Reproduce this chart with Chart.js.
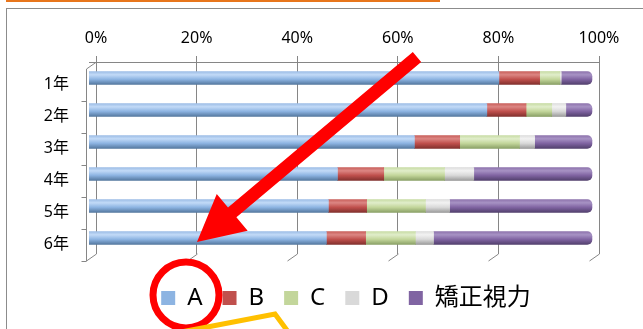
<!DOCTYPE html>
<html>
<head>
<meta charset="utf-8">
<script src="https://cdn.jsdelivr.net/npm/chart.js@4"></script>
<style>
  html, body { margin: 0; padding: 0; background: #fff; overflow: hidden; }
  #topline { position: absolute; left: 6px; top: 0; width: 434px; height: 2px; background: #e8761c; }
  #box { position: absolute; left: 6px; top: 8px; width: 680px; height: 340px; border: 1px solid #8c8c8c; box-sizing: border-box; }
</style>
</head>
<body>
<div id="topline"></div>
<div id="box"><canvas id="chart" width="678" height="338"></canvas></div>
<script>
// values (percent of pupils)
const grades = ['1年', '2年', '3年', '4年', '5年', '6年'];
const seriesNames = ['A', 'B', 'C', 'D', '矯正視力'];
const valA = [81.5, 79.1, 64.7, 49.4, 47.6, 47.2];
const valB = [8.1, 7.8, 9.0, 9.2, 7.6, 7.8];
const valC = [4.0, 5.1, 11.9, 12.1, 11.7, 9.9];
const valD = [0.3, 2.8, 3.0, 5.8, 4.8, 3.6];
const valE = [6.1, 5.2, 11.4, 23.5, 28.3, 31.5];
const tickValues = [0, 20, 40, 60, 80, 100];

const flatColors = ['#8db4e2', '#c0504d', '#c3d69b', '#d9d9d9', '#8064a2'];
const shades = [
    ['#9dbde6', '#c2daf7', '#8db4e2', '#54789f'],
    ['#c9605c', '#dc8683', '#c0504d', '#82302d'],
    ['#c8dca5', '#e0edca', '#c3d69b', '#8aa066'],
    ['#dedede', '#f2f2f2', '#d9d9d9', '#9c9c9c'],
    ['#8e74ad', '#a792c4', '#8064a2', '#52406d']
];
const FONT = "'Noto Sans', 'Noto Sans CJK JP', sans-serif";
const OX = 7, OY = 9; // canvas origin on the page

function cylinder(i) {
    return function (ctx) {
        if (ctx.type !== 'data') return flatColors[i];
        const chart = ctx.chart;
        const yc = chart.scales.y.getPixelForValue(ctx.dataIndex);
        if (!isFinite(yc)) return flatColors[i];
        const g = chart.ctx.createLinearGradient(0, yc - 6.5, 0, yc + 6.5);
        g.addColorStop(0, shades[i][0]);
        g.addColorStop(0.25, shades[i][1]);
        g.addColorStop(0.6, shades[i][2]);
        g.addColorStop(1, shades[i][3]);
        return g;
    };
}

const allVals = [valA, valB, valC, valD, valE];
const datasets = allVals.map(function (v, i) {
    const ds = {
        label: seriesNames[i],
        data: v,
        xAxisID: 'xb',
        backgroundColor: cylinder(i),
        borderWidth: 0,
        barThickness: 13
    };
    if (i === 4) { ds.borderRadius = 5; ds.borderSkipped = 'start'; }
    if (i === 0) { ds.borderRadius = 3; ds.borderSkipped = 'end'; }
    return ds;
});

// back wall / floor / left wall lines of the 3D frame
const framePlugin = {
    id: 'frame',
    beforeDatasetsDraw(chart) {
        const c = chart.ctx;
        const sx = chart.scales.x;
        const a = chart.chartArea;
        const dx = 10, dy = 7;
        c.save();
        c.strokeStyle = '#868686';
        c.lineWidth = 1;
        c.beginPath();
        tickValues.forEach(function (v) {
            const x = Math.round(sx.getPixelForValue(v)) + 0.5;
            c.moveTo(x, a.bottom);
            c.lineTo(x - dx, a.bottom + dy);
        });
        const x0 = Math.round(sx.getPixelForValue(0)) + 0.5;
        const xl = x0 - dx;
        c.moveTo(x0, a.top);
        c.lineTo(xl, a.top + dy);
        c.lineTo(xl, a.bottom + dy);
        const band = (a.bottom - a.top) / grades.length;
        for (let k = 1; k <= grades.length; k++) {
            const y = Math.round(a.top + dy + band * k) + 0.5;
            c.moveTo(xl - 5, y);
            c.lineTo(xl, y);
        }
        c.stroke();
        c.restore();
    }
};

// red arrow, red circle and yellow line drawn over the chart
const marksPlugin = {
    id: 'marks',
    afterDraw(chart) {
        const c = chart.ctx;
        c.save();
        c.translate(-OX, -OY);
        // arrow
        const S = [417, 57], T = [197, 242];
        const L = Math.hypot(T[0] - S[0], T[1] - S[1]);
        const u = [(T[0] - S[0]) / L, (T[1] - S[1]) / L];
        const n = [-u[1], u[0]];
        const hw = 6.5, headL = 46, headW = 24;
        const B = [T[0] - u[0] * headL, T[1] - u[1] * headL];
        c.fillStyle = '#ff0000';
        c.beginPath();
        c.moveTo(S[0] + n[0] * hw, S[1] + n[1] * hw);
        c.lineTo(B[0] + n[0] * hw, B[1] + n[1] * hw);
        c.lineTo(B[0] + n[0] * headW, B[1] + n[1] * headW);
        c.lineTo(T[0], T[1]);
        c.lineTo(B[0] - n[0] * headW, B[1] - n[1] * headW);
        c.lineTo(B[0] - n[0] * hw, B[1] - n[1] * hw);
        c.lineTo(S[0] - n[0] * hw, S[1] - n[1] * hw);
        c.closePath();
        c.fill();
        // circle
        c.strokeStyle = '#ff0000';
        c.lineWidth = 7;
        c.beginPath();
        c.arc(186, 295, 33, 0, Math.PI * 2);
        c.stroke();
        // yellow line
        c.strokeStyle = '#ffc000';
        c.lineWidth = 5;
        c.lineJoin = 'miter';
        c.beginPath();
        c.moveTo(176, 333);
        c.lineTo(275, 314);
        c.lineTo(289, 333);
        c.stroke();
        c.restore();
    }
};

new Chart(document.getElementById('chart'), {
    type: 'bar',
    data: { labels: grades, datasets: datasets },
    options: {
        indexAxis: 'y',
        responsive: false,
        animation: false,
        layout: { padding: { left: 0, right: 0, top: 0, bottom: 27 } },
        scales: {
            x: {
                position: 'top',
                min: -1.4,
                max: 100,
                afterBuildTicks: function (s) { s.ticks = tickValues.map(function (v) { return { value: v }; }); },
                afterFit: function (s) { s.height = 53; },
                ticks: {
                    padding: 8,
                    color: '#000',
                    font: { family: FONT, size: 16 },
                    maxRotation: 0,
                    callback: function (v) { return v + '%'; }
                },
                grid: { color: '#868686', tickLength: 6, lineWidth: 1 },
                border: { color: '#868686' }
            },
            xb: {
                position: 'bottom',
                stacked: true,
                min: 0,
                max: 101.4,
                afterFit: function (s) { s.height = 12; },
                ticks: { display: false },
                grid: { display: false, drawTicks: false },
                border: { display: false }
            },
            y: {
                stacked: true,
                afterFit: function (s) { s.width = 82; },
                ticks: {
                    padding: 20,
                    labelOffset: 6,
                    color: '#000',
                    font: { family: FONT, size: 16 }
                },
                grid: { display: false, drawTicks: false },
                border: { display: false }
            },
            yr: {
                type: 'linear',
                position: 'right',
                afterFit: function (s) { s.width = 86; },
                ticks: { display: false },
                grid: { display: false, drawTicks: false },
                border: { display: false }
            }
        },
        plugins: {
            legend: {
                position: 'bottom',
                labels: {
                    boxWidth: 14,
                    boxHeight: 14,
                    padding: 20,
                    color: '#000',
                    font: { family: FONT, size: 24 },
                    generateLabels: function () {
                        return seriesNames.map(function (name, i) {
                            return { text: name, fillStyle: flatColors[i], strokeStyle: flatColors[i], lineWidth: 0, datasetIndex: i };
                        });
                    }
                }
            },
            tooltip: { enabled: false }
        }
    },
    plugins: [framePlugin, marksPlugin]
});
</script>
</body>
</html>
